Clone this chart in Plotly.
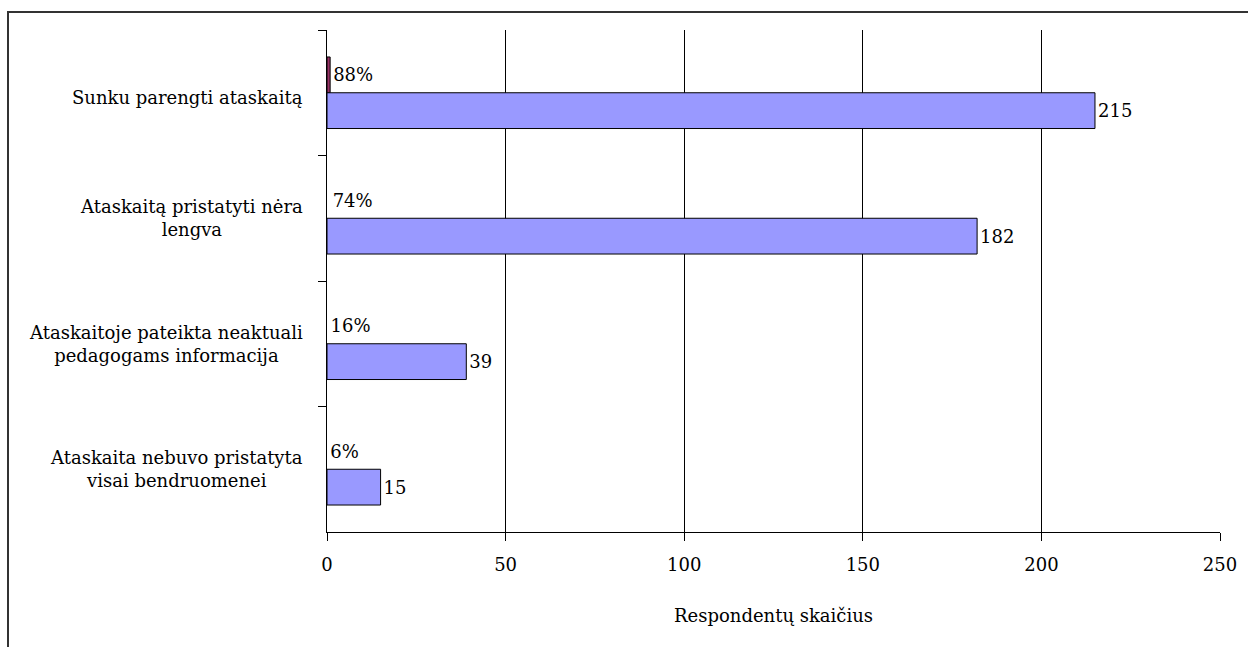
import plotly.graph_objects as go

# Survey answers, listed top to bottom as they appear on the chart
categories = [
    "Sunku parengti ataskaitą",
    "Ataskaitą pristatyti nėra lengva",
    "Ataskaitoje pateikta neaktuali pedagogams informacija",
    "Ataskaita nebuvo pristatyta visai bendruomenei",
]
category_labels = [
    "Sunku parengti ataskaitą",
    "Ataskaitą pristatyti nėra<br>lengva",
    "Ataskaitoje pateikta neaktuali<br>pedagogams informacija",
    "Ataskaita nebuvo pristatyta<br>visai bendruomenei",
]
share = [0.88, 0.74, 0.16, 0.06]          # share of respondents
share_labels = ["88%", "74%", "16%", "6%"]
counts = [215, 182, 39, 15]               # number of respondents
x_ticks = [0, 50, 100, 150, 200, 250]

FONT = "DejaVu Serif"
FS = 18

fig = go.Figure()

fig.add_trace(go.Bar(
    y=categories, x=share, orientation="h",
    marker=dict(color=["#993366", "rgba(0,0,0,0)", "rgba(0,0,0,0)", "rgba(0,0,0,0)"],
                line=dict(color=["#000000", "rgba(0,0,0,0)", "rgba(0,0,0,0)", "rgba(0,0,0,0)"], width=1)),
    text=share_labels, textposition="outside",
    textfont=dict(family=FONT, size=FS, color="#000000"),
    cliponaxis=False, showlegend=False, hoverinfo="skip",
))
fig.add_trace(go.Bar(
    y=categories, x=counts, orientation="h",
    marker=dict(color="#9999FF", line=dict(color="#000000", width=1)),
    text=[str(v) for v in counts], textposition="outside",
    textfont=dict(family=FONT, size=FS, color="#000000"),
    cliponaxis=False, showlegend=False, hoverinfo="skip",
))

# Category labels: lines centred, block right-aligned against the axis
for cat, lab in zip(categories, category_labels):
    fig.add_annotation(
        xref="paper", yref="y", x=-0.025, y=cat,
        yshift=-5 if "<br>" not in lab else 0,
        text=lab, xanchor="right", yanchor="middle", align="center",
        showarrow=False, font=dict(family=FONT, size=FS, color="#000000"),
    )

L, R, T, B = 327, 28, 30, 115
W, H = 1248, 647
pw, ph = W - L - R, H - T - B

# Outer frame around the chart (runs past the right and bottom edges)
fig.add_shape(
    type="rect", xref="paper", yref="paper",
    x0=(8 - L) / pw, x1=(W + 20 - L) / pw,
    y0=-(H + 20 - (H - B)) / ph, y1=1 + (T - 12) / ph,
    line=dict(color="#333333", width=2), fillcolor="rgba(0,0,0,0)", layer="below",
)

fig.update_layout(
    width=W, height=H,
    margin=dict(l=L, r=R, t=T, b=B),
    paper_bgcolor="#ffffff", plot_bgcolor="#ffffff",
    barmode="group", bargap=0.43, bargroupgap=0,
    font=dict(family=FONT, size=FS, color="#000000"),
    xaxis=dict(
        range=[0, 250], tickvals=x_ticks, ticktext=[str(v) for v in x_ticks],
        showgrid=True, gridcolor="#000000", gridwidth=1,
        zeroline=False, showline=True, linecolor="#000000", linewidth=1,
        ticks="outside", ticklen=8, tickcolor="#000000", ticklabelstandoff=8,
        tickfont=dict(family=FONT, size=FS),
        title=dict(text="Respondentų skaičius", font=dict(family=FONT, size=FS), standoff=35),
    ),
    yaxis=dict(
        categoryorder="array", categoryarray=categories, autorange="reversed",
        showticklabels=False, showgrid=False, zeroline=False,
        showline=True, linecolor="#000000", linewidth=1,
        ticks="outside", ticklen=8, tickcolor="#000000", tickson="boundaries",
    ),
)

fig.write_html("out.html")
